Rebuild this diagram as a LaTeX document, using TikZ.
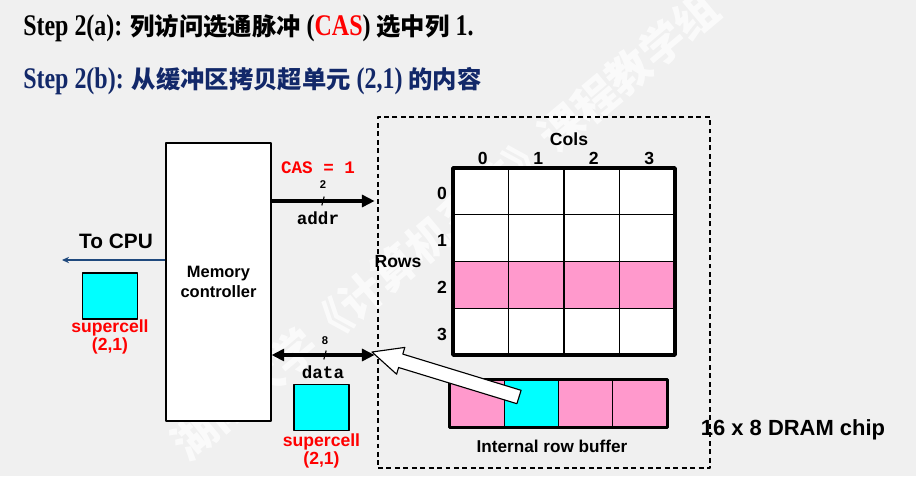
\documentclass[tikz,border=0pt]{standalone}
\usepackage{fontspec}
\setmainfont{Liberation Sans}
\setmonofont{Liberation Mono}
\newfontfamily\titlefont{Liberation Serif}[FakeStretch=0.8]
\newfontfamily\cjk{Noto Sans CJK SC}
\usetikzlibrary{arrows.meta}
\definecolor{bg}{RGB}{240,240,240}
\definecolor{rowpink}{RGB}{255,153,204}
\definecolor{cellcyan}{RGB}{0,255,255}
\definecolor{navy}{RGB}{18,40,105}
\definecolor{cpublue}{RGB}{31,73,125}
\newcommand\tlat{\titlefont\bfseries\fontsize{21.3}{24}\selectfont}
\newcommand\tcjk{\cjk\bfseries\fontsize{17.3}{20}\selectfont}
\def\px{0.025cm}
\begin{document}
\begin{tikzpicture}[x=0.025cm, y=-0.025cm, line join=round,
    >={Triangle[length=9pt,width=8.5pt]},
    lbl/.style={font=\bfseries\fontsize{12.5}{14}\selectfont, inner sep=0pt},
    mono/.style={font=\ttfamily\bfseries\fontsize{12.5}{14}\selectfont, inner sep=0pt},
    buswidth/.style={font=\bfseries\fontsize{8}{9}\selectfont, inner sep=0pt},
    redlbl/.style={text=red, align=center, inner sep=0pt, font=\bfseries\fontsize{12.5}{12.8}\selectfont},
    scell/.style={draw, fill=cellcyan, line width=0.8pt, minimum width=55*\px, minimum height=46*\px, inner sep=0pt},
    bufcell/.style={draw, line width=1pt, minimum width=54.25*\px, minimum height=47*\px, inner sep=0pt},
    bus/.style={line width=2.6pt, shorten >=2pt},
    cpuline/.style={draw=cpublue, line width=1.1pt, -{Stealth[length=5pt,width=4.5pt]}},
    ttl/.style={anchor=base west, inner sep=0pt},
    wm/.style={font=\cjk\bfseries\fontsize{31}{31}\selectfont, text=white, text opacity=0.7, inner sep=0pt}]
    \fill[bg] (0,0) rectangle (916,476);
    \clip (0,0) rectangle (916,476);
    \node[wm, rotate=40] (mark) at (445,226) {湖南大学《计算机系统》课程教学组};
    % titles
    \node[ttl] (step-a) at (23,35) {\tlat Step 2(a): \tcjk 列访问选通脉冲\tlat\ (\textcolor{red}{CAS}) \tcjk 选中列\tlat\ 1.};
    \node[ttl, text=navy] (step-b) at (23,88) {\tlat Step 2(b): \tcjk 从缓冲区拷贝超单元\tlat\ (2,1) \tcjk 的内容};
    % controller and chip
    \node[draw, fill=white, line width=0.8pt, minimum width=105*\px, minimum height=278*\px, align=center, font=\bfseries\fontsize{11.7}{14.2}\selectfont] (mc) at (218.5,282) {Memory\\controller};
    \node[draw, dash pattern=on 3.5pt off 2.5pt, line width=0.8pt, minimum width=332*\px, minimum height=351*\px] (chip) at (544,292.5) {};
    % DRAM array
    \def\gx{453} \def\gy{168} \def\cw{55.5} \def\ch{46.75}
    \fill[white] (\gx,\gy) rectangle ++(4*\cw,4*\ch);
    \fill[rowpink] (\gx,\gy+2*\ch) rectangle ++(4*\cw,\ch);
    \foreach \i in {1,2,3}{
        \draw[line width=1pt] (\gx+\i*\cw,\gy) -- ++(0,4*\ch);
        \draw[line width=1pt] (\gx,\gy+\i*\ch) -- ++(4*\cw,0);
    }
    \draw[line width=2.5pt] (\gx,\gy) rectangle ++(4*\cw,4*\ch);
    \node[lbl] (cols) at (569,139) {Cols};
    \foreach \c in {0,...,3} \node[lbl] (col\c) at (\gx+\c*\cw+\cw/2+2,158) {\c};
    \foreach \r in {0,...,3} \node[lbl] (row\r) at (442,\gy+\r*\ch+\ch/2+2.5) {\r};
    \node[lbl] (rows) at (398,262) {Rows};
    % row buffer
    \def\bx{450} \def\by{380} \def\bw{54.25} \def\bh{47}
    \foreach \c/\col in {0/rowpink,1/cellcyan,2/rowpink,3/rowpink}
        \node[bufcell, fill=\col] (buf\c) at (\bx+\c*\bw+\bw/2,\by+\bh/2) {};
    \draw[line width=2.5pt] (buf0.north west) rectangle (buf3.south east);
    \node[anchor=base, inner sep=0pt, font=\bfseries\fontsize{12.2}{14}\selectfont] (buflbl) at (552,452) {Internal row buffer};
    % supercells
    \node[scell] (sc-cpu) at (110,296) {};
    \node[redlbl, anchor=north] at (sc-cpu.south) {supercell\\(2,1)};
    \node[scell] (sc-bus) at (321.5,407.5) {};
    \node[redlbl, anchor=north] at ([yshift=-1.8pt]sc-bus.south) {supercell\\(2,1)};
    % CPU side
    \node[anchor=base, inner sep=0pt, font=\bfseries\fontsize{14.8}{16}\selectfont] (tocpu) at (116,248) {To CPU};
    \coordinate (cpu) at (62,260);
    \draw[cpuline] (mc.west |- cpu) -- (cpu);
    % buses
    \coordinate (a-y) at (0,201);
    \coordinate (d-y) at (0,355);
    \draw[bus,->] (mc.east |- a-y) -- (chip.west |- a-y);
    \draw[bus,<->] (mc.east |- d-y) -- (chip.west |- d-y);
    \draw[line width=0.8pt] (323,201) ++(-1.2,4.5) -- ++(2.4,-9);
    \draw[line width=0.8pt] (325,355) ++(-1.2,4.5) -- ++(2.4,-9);
    \node[mono, text=red, anchor=base] (cas) at (318,173) {CAS = 1};
    \node[buswidth] (w-addr) at (323,185) {2};
    \node[mono, anchor=base] (addr) at (318,224) {addr};
    \node[buswidth] (w-data) at (325,341) {8};
    \node[mono, anchor=base] (data) at (323,378) {data};
    % copy out of the buffer
    \draw[fill=white, line width=0.8pt] (372,352) -- (404.8,347.4) -- (402.8,354.1) -- (521.1,390.3)
        -- (516.9,403.7) -- (398.6,367.5) -- (396.6,374.2) -- cycle;
    \node[anchor=base, inner sep=0pt, font=\bfseries\fontsize{15.6}{17}\selectfont] (dram) at (793,435) {16 x 8 DRAM chip};
\end{tikzpicture}
\end{document}
